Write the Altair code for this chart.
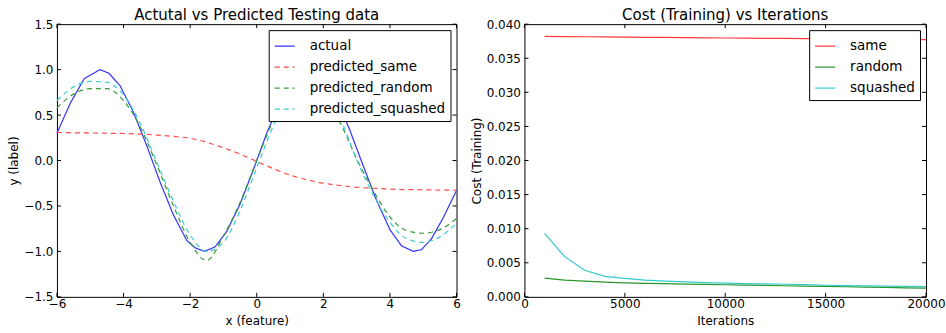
import altair as alt
import pandas as pd

# ---------------- Left panel data ----------------
actual_x = [-6.0, -5.6, -5.18, -4.71, -4.44, -4.1, -3.7, -3.3, -2.9, -2.5, -2.1, -1.85,
            -1.57, -1.25, -0.9, -0.5, -0.1, 0.3, 0.7, 1.1, 1.57, 2.0, 2.4, 2.8, 3.2,
            3.6, 4.0, 4.35, 4.71, 4.95, 5.25, 5.6, 6.0]
actual_y = [0.30, 0.63, 0.90, 1.00, 0.96, 0.82, 0.53, 0.16, -0.24, -0.60, -0.88, -0.96,
            -1.00, -0.95, -0.78, -0.48, -0.10, 0.30, 0.64, 0.89, 1.00, 0.91, 0.68, 0.33, -0.06,
            -0.44, -0.76, -0.94, -1.00, -0.98, -0.86, -0.63, -0.33]

pred_x = [-6.0, -5.5, -5.0, -4.5, -4.0, -3.5, -3.0, -2.5, -2.0, -1.5, -1.0, -0.5, 0.0,
          0.5, 1.0, 1.5, 2.0, 2.5, 3.0, 3.5, 4.0, 4.5, 5.0, 5.5, 6.0]
pred_same = [0.31, 0.305, 0.303, 0.30, 0.297, 0.29, 0.28, 0.265, 0.245, 0.20, 0.14, 0.07, -0.01,
             -0.09, -0.16, -0.21, -0.25, -0.275, -0.295, -0.305, -0.315, -0.32, -0.322, -0.325, -0.327]
pred_random = [0.58, 0.73, 0.79, 0.79, 0.66, 0.37, -0.05, -0.50, -0.90, -1.10, -0.83, -0.46, 0.0,
               0.44, 0.72, 0.80, 0.70, 0.42, 0.02, -0.33, -0.62, -0.77, -0.80, -0.76, -0.64]
pred_squashed = [0.66, 0.81, 0.87, 0.86, 0.72, 0.41, -0.02, -0.45, -0.82, -1.00, -0.90, -0.55, -0.08,
                 0.38, 0.72, 0.87, 0.79, 0.47, 0.01, -0.38, -0.68, -0.86, -0.90, -0.84, -0.69]

# ---------------- Right panel data ----------------
iters = [1000, 2000, 3000, 4000, 5000, 6000, 7000, 8000, 9000, 10000,
         11000, 12000, 13000, 14000, 15000, 16000, 17000, 18000, 19000, 20000]
cost_same = [0.03820, 0.03817, 0.03815, 0.03812, 0.03810, 0.03807, 0.03805, 0.03802, 0.03800, 0.03797,
             0.03795, 0.03792, 0.03790, 0.03787, 0.03785, 0.03782, 0.03780, 0.03777, 0.03775, 0.03772]
cost_random = [0.00275, 0.00245, 0.00230, 0.00216, 0.00206, 0.00199, 0.00193, 0.00188, 0.00183, 0.00178,
               0.00173, 0.00168, 0.00163, 0.00158, 0.00153, 0.00148, 0.00143, 0.00138, 0.00133, 0.00129]
cost_squashed = [0.0093, 0.0059, 0.0039, 0.0030, 0.0027, 0.00245, 0.0023, 0.0022, 0.0021, 0.0020,
                 0.00195, 0.0019, 0.00185, 0.0018, 0.0017, 0.00165, 0.0016, 0.00158, 0.00155, 0.0015]

left_xticks = [-6, -4, -2, 0, 2, 4, 6]
left_yticks = [-1.5, -1.0, -0.5, 0.0, 0.5, 1.0, 1.5]
right_xticks = [0, 5000, 10000, 15000, 20000]
right_yticks = [0.0, 0.005, 0.01, 0.015, 0.02, 0.025, 0.03, 0.035, 0.04]

FONT = "DejaVu Sans"
LW, LH = 400, 273
RW, RH = 402, 273
TICK = 4


def legend():
    return alt.Legend(title=None, orient="top-right", offset=6,
                      fillColor="white", strokeColor="black",
                      padding=5, symbolType="stroke", symbolSize=400,
                      symbolStrokeWidth=1.2, labelFontSize=13.5, labelOffset=14,
                      rowPadding=3, labelFont=FONT, labelColor="black")


def xaxis(values, fmt):
    return alt.Axis(values=values, format=fmt, ticks=False, domain=False, grid=False,
                    labelPadding=2, titlePadding=6, labelFlush=False, labelOverlap=False)


def yaxis(values, fmt):
    return alt.Axis(values=values, format=fmt, ticks=False, domain=False, grid=False,
                    labelPadding=4, titlePadding=3, labelFlush=False, labelOverlap=False)


def frame_ticks(xt, yt, xs, ys, w, h, xa, ya, xtitle, ytitle):
    dx = pd.DataFrame({"t": xt})
    dy = pd.DataFrame({"t": yt})
    X = alt.X("t:Q", scale=xs, axis=xa, title=xtitle)
    Y = alt.Y("t:Q", scale=ys, axis=ya, title=ytitle)
    return (
        alt.Chart(dx).mark_rule(color="black").encode(x=X, y=alt.value(0), y2=alt.value(TICK))
        + alt.Chart(dx).mark_rule(color="black").encode(x=X, y=alt.value(h - TICK), y2=alt.value(h))
        + alt.Chart(dy).mark_rule(color="black").encode(y=Y, x=alt.value(0), x2=alt.value(TICK))
        + alt.Chart(dy).mark_rule(color="black").encode(y=Y, x=alt.value(w - TICK), x2=alt.value(w))
    )


def title(text):
    return alt.TitleParams(text, fontSize=15, fontWeight="normal", font=FONT,
                           offset=-5, color="black", frame="group")


# ---------------- Left ----------------
left_series = ["actual", "predicted_same", "predicted_random", "predicted_squashed"]
left_colors = ["#3434ff", "#ff4a4a", "#3a9a3a", "#3ccccc"]

adf = pd.DataFrame({"x": actual_x, "y": actual_y, "series": "actual"})
prows = []
for name, vals in [("predicted_same", pred_same), ("predicted_random", pred_random),
                   ("predicted_squashed", pred_squashed)]:
    for x, y in zip(pred_x, vals):
        prows.append({"x": x, "y": y, "series": name})
pdf = pd.DataFrame(prows)

lx = alt.Scale(domain=[-6, 6], nice=False, zero=False)
ly = alt.Scale(domain=[-1.5, 1.5], nice=False, zero=False)
lxa = xaxis(left_xticks, "d")
lya = yaxis(left_yticks, ".1f")

lcolor = alt.Color("series:N", scale=alt.Scale(domain=left_series, range=left_colors), legend=legend())
ldash = alt.StrokeDash("series:N",
                       scale=alt.Scale(domain=left_series, range=[[1, 0], [5, 4], [5, 4], [5, 4]]),
                       legend=None)
lenc = dict(
    x=alt.X("x:Q", scale=lx, title="x (feature)", axis=lxa),
    y=alt.Y("y:Q", scale=ly, title="y (label)", axis=lya),
    color=lcolor, strokeDash=ldash, order=alt.Order("x:Q"),
)

pred_lines = alt.Chart(pdf).mark_line(strokeWidth=1.2, interpolate="monotone").encode(**lenc)
actual_line = alt.Chart(adf).mark_line(strokeWidth=1.2).encode(**lenc)

left = alt.layer(
    actual_line, pred_lines,
    frame_ticks(left_xticks, left_yticks, lx, ly, LW, LH, lxa, lya, "x (feature)", "y (label)"),
).properties(width=LW, height=LH, title=title("Actutal vs Predicted Testing data"))

# ---------------- Right ----------------
right_series = ["same", "random", "squashed"]
right_colors = ["#ff3a3a", "#2a962a", "#33cccc"]
rrows = []
for name, vals in [("same", cost_same), ("random", cost_random), ("squashed", cost_squashed)]:
    for x, y in zip(iters, vals):
        rrows.append({"it": x, "cost": y, "series": name})
rdf = pd.DataFrame(rrows)

rx = alt.Scale(domain=[0, 20000], nice=False)
ry = alt.Scale(domain=[0, 0.04], nice=False)
rxa = xaxis(right_xticks, "d")
rya = yaxis(right_yticks, ".3f")

right_lines = alt.Chart(rdf).mark_line(strokeWidth=1.2).encode(
    x=alt.X("it:Q", scale=rx, title="Iterations", axis=rxa),
    y=alt.Y("cost:Q", scale=ry, title="Cost (Training)", axis=rya),
    color=alt.Color("series:N", scale=alt.Scale(domain=right_series, range=right_colors),
                    legend=legend()),
    order=alt.Order("it:Q"),
)

right = alt.layer(
    right_lines,
    frame_ticks(right_xticks, right_yticks, rx, ry, RW, RH, rxa, rya, "Iterations", "Cost (Training)"),
).properties(width=RW, height=RH, title=title("Cost (Training) vs Iterations"))

chart = alt.hconcat(left, right, spacing=8).resolve_scale(color="independent", strokeDash="independent").properties(
    padding={"left": 7, "top": 7, "right": 0, "bottom": 0},
    background="white",
).configure_view(stroke="black", strokeWidth=1).configure_axis(
    labelFont=FONT, titleFont=FONT, labelFontSize=12, titleFontSize=12,
    labelColor="black", titleColor="black", titleFontWeight="normal",
    labelOverlap=False, labelSeparation=0,
)

chart.save("out.html", embed_options={"renderer": "svg", "actions": False})
